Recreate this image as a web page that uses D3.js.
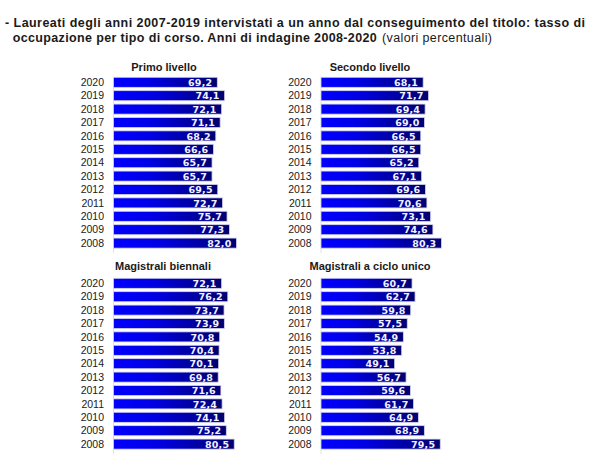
<!DOCTYPE html>
<html>
<head>
<meta charset="utf-8">
<script src="https://cdn.jsdelivr.net/npm/d3@7"></script>
<style>
  html, body { margin: 0; padding: 0; background: #fff; }
  svg { display: block; }
</style>
</head>
<body>
<svg id="chart" width="600" height="456"></svg>
<script>
// ---- Data ----
const years = ["2020","2019","2018","2017","2016","2015","2014","2013","2012","2011","2010","2009","2008"];
const primoLivello      = [69.2,74.1,72.1,71.1,68.2,66.6,65.7,65.7,69.5,72.7,75.7,77.3,82.0];
const secondoLivello    = [68.1,71.7,69.4,69.0,66.5,66.5,65.2,67.1,69.6,70.6,73.1,74.6,80.3];
const magistraliBiennali= [72.1,76.2,73.7,73.9,70.8,70.4,70.1,69.8,71.6,72.4,74.1,75.2,80.5];
const cicloUnico        = [60.7,62.7,59.8,57.5,54.9,53.8,49.1,56.7,59.6,61.7,64.9,68.9,79.5];
const panelTitles = ["Primo livello","Secondo livello","Magistrali biennali","Magistrali a ciclo unico"];
const headerLine1 = "- Laureati degli anni 2007-2019 intervistati a un anno dal conseguimento del titolo: tasso di";
const headerLine2a = "occupazione per tipo di corso. Anni di indagine 2008-2020";
const headerLine2b = "(valori percentuali)";

const svg = d3.select("#chart");
const it = d3.formatLocale({decimal: ",", thousands: ".", grouping: [3], currency: ["€",""]});
const fmt = it.format(".1f");

// gradient
const defs = svg.append("defs");
const grad = defs.append("linearGradient").attr("id","barGrad")
  .attr("x1","0%").attr("x2","100%").attr("y1","0%").attr("y2","0%");
grad.append("stop").attr("offset","0%").attr("stop-color","#0000ff");
grad.append("stop").attr("offset","35%").attr("stop-color","#0000e6");
grad.append("stop").attr("offset","100%").attr("stop-color","#000070");

// header
const tc = "#1a1a1a";
svg.append("text").attr("x",5).attr("y",27)
  .attr("font-family","Liberation Sans, Arial, sans-serif").attr("font-weight","bold")
  .attr("font-size",12.5).attr("fill",tc)
  .attr("textLength",580).attr("lengthAdjust","spacing")
  .text(headerLine1);
svg.append("text").attr("x",12.7).attr("y",42)
  .attr("font-family","Liberation Sans, Arial, sans-serif").attr("font-weight","bold")
  .attr("font-size",12.5).attr("fill",tc)
  .attr("textLength",364).attr("lengthAdjust","spacing")
  .text(headerLine2a);
svg.append("text").attr("x",382).attr("y",42)
  .attr("font-family","Liberation Sans, Arial, sans-serif").attr("font-weight","normal")
  .attr("font-size",12.5).attr("fill",tc)
  .attr("textLength",110).attr("lengthAdjust","spacing")
  .text(headerLine2b);

const panels = [
  {title: panelTitles[0], values: primoLivello,       x0: 113.5, y0: 75.6,  tx: 164, ty: 70.5},
  {title: panelTitles[1], values: secondoLivello,     x0: 321,   y0: 75.6,  tx: 370, ty: 70.5},
  {title: panelTitles[2], values: magistraliBiennali, x0: 113.5, y0: 276.6, tx: 163, ty: 269.5},
  {title: panelTitles[3], values: cicloUnico,         x0: 321,   y0: 276.6, tx: 370, ty: 269.5}
];

panels.forEach(p => {
  const g = svg.append("g");
  const x = d3.scaleLinear().domain([0,100]).range([p.x0, p.x0 + 150]);
  const y = d3.scaleBand().domain(years).range([p.y0, p.y0 + 13*13.4])
    .paddingInner(0.25).paddingOuter(0.125);
  const data = years.map((yr,i) => ({year: yr, value: p.values[i]}));

  // faint baseline
  g.append("line")
    .attr("x1", x(0)).attr("x2", x(0))
    .attr("y1", y(years[0])).attr("y2", y(years[years.length-1]) + y.bandwidth() + 5)
    .attr("stroke","#e2e2e2").attr("stroke-width",1);

  // title
  g.append("text").attr("x",p.tx).attr("y",p.ty).attr("text-anchor","middle")
    .attr("font-family","Liberation Sans, Arial, sans-serif").attr("font-weight","bold")
    .attr("font-size",11).attr("fill",tc).text(p.title);

  // year labels
  g.selectAll(".yr").data(data).join("text")
    .attr("x", x(0) - 9.5)
    .attr("y", d => y(d.year) + y.bandwidth()/2 + 3.6)
    .attr("text-anchor","end")
    .attr("font-family","Liberation Sans, Arial, sans-serif")
    .attr("font-size",10.5).attr("fill",tc)
    .text(d => d.year);

  // bars
  g.selectAll(".bar").data(data).join("rect")
    .attr("x", x(0))
    .attr("y", d => y(d.year))
    .attr("width", d => x(d.value) - x(0))
    .attr("height", y.bandwidth())
    .attr("fill","url(#barGrad)")
    .attr("stroke","#d4d4ee").attr("stroke-width",0.8);

  // value labels
  g.selectAll(".val").data(data).join("text")
    .attr("x", d => x(d.value) - 5)
    .attr("y", d => y(d.year) + y.bandwidth()/2 + 3.6)
    .attr("text-anchor","end")
    .attr("font-family","DejaVu Sans, sans-serif").attr("font-weight","bold")
    .attr("font-size",9.5).attr("fill","#f2f2ff")
    .attr("letter-spacing",0.2)
    .text(d => fmt(d.value));
});
</script>
</body>
</html>
